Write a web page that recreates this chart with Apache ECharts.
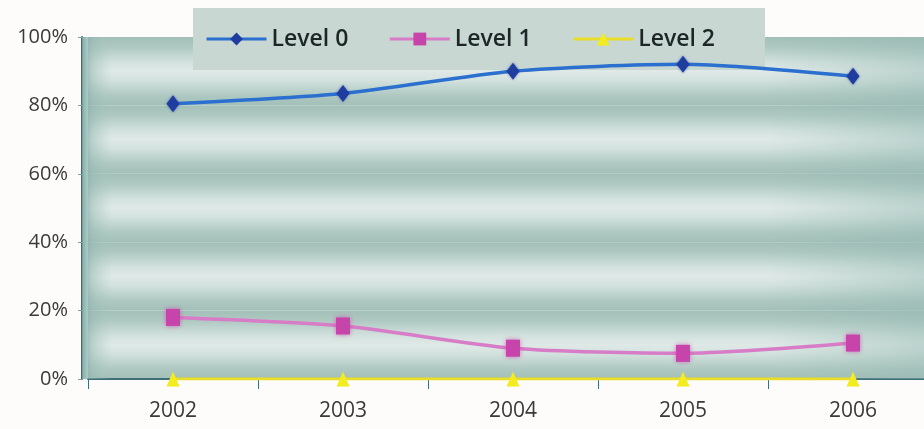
<!DOCTYPE html>
<html>
<head>
<meta charset="utf-8">
<title>Levels 2002–2006</title>
<script src="https://cdn.jsdelivr.net/npm/echarts@6/dist/echarts.min.js"></script>
<style>
  html, body { margin: 0; padding: 0; background: #fdfcfa; }
  #chart { width: 924px; height: 429px; }
</style>
</head>
<body>
<div id="chart"></div>
<script>
// Years on the horizontal axis
const years = ['2002', '2003', '2004', '2005', '2006'];

// Share of each level per year (percent)
const level0 = [80.5, 83.5, 90, 92, 88.5];
const level1 = [18, 15.5, 9, 7.5, 10.5];
const level2 = [0, 0, 0, 0, 0];

// Value axis ticks (percent)
const yTicks = [0, 20, 40, 60, 80, 100];

const seriesNames = ['Level 0', 'Level 1', 'Level 2'];

const FONT = '"Open Sans", "Noto Sans", sans-serif';
const TEAL = '#3d6f76';
const Y_AXIS_OFFSET = 6;

// Each 20 % stripe: dark teal at its grid lines, pale in the middle
const stripe = {
  type: 'linear', x: 0, y: 0, x2: 0, y2: 1,
  colorStops: [
    { offset: 0.00, color: '#a2bfb8' },
    { offset: 0.15, color: '#afc9c2' },
    { offset: 0.37, color: '#d3e2de' },
    { offset: 0.50, color: '#dfe9e7' },
    { offset: 0.63, color: '#d3e2de' },
    { offset: 0.85, color: '#afc9c2' },
    { offset: 1.00, color: '#a2bfb8' }
  ]
};

const chart = echarts.init(document.getElementById('chart'), null, { renderer: 'canvas' });

chart.setOption({
  backgroundColor: '#fdfcfa',
  animation: false,
  grid: { left: 88, width: 850, top: 37, bottom: 50, containLabel: false, outerBoundsMode: 'none' },
  legend: {
    data: seriesNames,
    left: 193,
    top: 8,
    padding: [16, 50, 16, 12],
    itemGap: 40,
    itemWidth: 60,
    itemHeight: 16,
    backgroundColor: '#c8d7d2',
    lineStyle: { width: 3 },
    textStyle: { fontFamily: FONT, fontSize: 23, fontWeight: 600, color: '#1c2626', lineHeight: 30 }
  },
  xAxis: {
    type: 'category',
    data: years,
    boundaryGap: true,
    axisLine: { lineStyle: { color: TEAL, width: 2 } },
    axisTick: { show: true, length: 10, lineStyle: { color: TEAL, width: 1 } },
    axisLabel: { margin: 22, fontFamily: FONT, fontSize: 21, color: '#3a3a3a' },
    splitLine: { show: false }
  },
  yAxis: {
    type: 'value',
    min: yTicks[0],
    max: yTicks[yTicks.length - 1],
    interval: yTicks[1] - yTicks[0],
    offset: Y_AXIS_OFFSET,
    axisLine: { show: true, lineStyle: { color: TEAL, width: 2 } },
    axisTick: { show: true, length: 4, lineStyle: { color: '#7aa3a8' } },
    axisLabel: { margin: 14, fontFamily: FONT, fontSize: 20, color: '#3a3a3a', formatter: '{value}%' },
    splitLine: { show: false },
    splitArea: { show: true, areaStyle: { color: [stripe] } }
  },
  series: [
    {
      name: seriesNames[0],
      type: 'line',
      data: level0,
      smooth: 0.25,
      symbol: 'diamond',
      symbolSize: [13, 17],
      lineStyle: { color: '#2b6fcf', width: 3.5 },
      itemStyle: { color: '#1f3c9f', shadowBlur: 3, shadowColor: 'rgba(31,60,159,0.6)' },
      z: 4
    },
    {
      name: seriesNames[1],
      type: 'line',
      data: level1,
      smooth: 0.25,
      symbol: 'rect',
      symbolSize: [14, 17],
      lineStyle: { color: '#d77cc6', width: 3.5 },
      itemStyle: { color: '#c744aa', shadowBlur: 5, shadowColor: 'rgba(199,68,170,0.7)' },
      z: 3
    },
    {
      name: seriesNames[2],
      type: 'line',
      data: level2,
      symbol: 'triangle',
      symbolSize: [13, 15],
      lineStyle: { color: '#e9dd2a', width: 3 },
      itemStyle: { color: '#f3ec1e' },
      z: 5
    }
  ]
});

// Darker teal shading along the left and right edges of the plot area
const plotTop = chart.convertToPixel({ yAxisIndex: 0 }, yTicks[yTicks.length - 1]);
const plotBottom = chart.convertToPixel({ yAxisIndex: 0 }, yTicks[0]);
const firstX = chart.convertToPixel({ xAxisIndex: 0 }, years[0]);
const secondX = chart.convertToPixel({ xAxisIndex: 0 }, years[1]);
const lastX = chart.convertToPixel({ xAxisIndex: 0 }, years[years.length - 1]);
const band = secondX - firstX;
const plotLeft = firstX - band / 2;
const edgeX = plotLeft - Y_AXIS_OFFSET;
const rightStart = lastX - band / 2;
chart.setOption({
  graphic: [
    {
      type: 'rect',
      z: 1,
      silent: true,
      shape: { x: edgeX, y: plotTop, width: 30, height: plotBottom - plotTop },
      style: {
        fill: {
          type: 'linear', x: 0, y: 0, x2: 1, y2: 0,
          colorStops: [
            { offset: 0, color: 'rgba(120,165,160,0.9)' },
            { offset: 0.35, color: 'rgba(150,185,178,0.5)' },
            { offset: 1, color: 'rgba(170,200,192,0)' }
          ]
        }
      }
    },
    {
      type: 'rect',
      z: 1,
      silent: true,
      shape: { x: rightStart, y: plotTop, width: band * 1.5, height: plotBottom - plotTop },
      style: {
        fill: {
          type: 'linear', x: 0, y: 0, x2: 1, y2: 0,
          colorStops: [
            { offset: 0, color: 'rgba(150,185,178,0)' },
            { offset: 0.6, color: 'rgba(150,185,178,0.45)' },
            { offset: 1, color: 'rgba(150,185,178,0.55)' }
          ]
        }
      }
    }
  ]
});
</script>
</body>
</html>
